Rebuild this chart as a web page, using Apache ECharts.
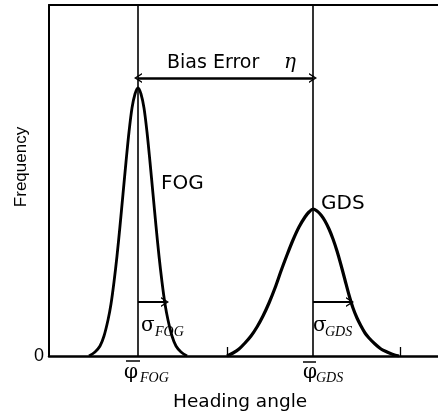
<!DOCTYPE html>
<html>
<head>
<meta charset="utf-8">
<script src="https://cdn.jsdelivr.net/npm/echarts@6/dist/echarts.min.js"></script>
<style>
html,body{margin:0;padding:0;background:#fff;}
#c{width:438px;height:415px;}
</style>
</head>
<body>
<div id="c"></div>
<script>
// Heading angle (x) and frequency (y), arbitrary units
var fogX = [40,46,51,55,59,62,65,68,71,74,77,80,83,86,89,92,95,98,101,104,107,110,113,116,119,123,127,132,138];
var fogY = [0,4,10,20,36,52,74,100,130,162,194,224,248,262,268,262,248,224,194,162,130,100,74,52,36,20,10,4,0];
var gdsX = [178,184,190,196,202,208,214,220,226,232,238,244,250,256,260,264,268,272,276,280,284,288,292,296,300,304,308,312,316,320,326,332,338,344,350];
var gdsY = [0,3,7,13,20,29,40,53,68,85,101,116,129,139,144,147,145,141,135,127,117,105,91,76,61,48,38,30,23,18,12,7,4,1.5,0];
var means = [89, 264];           // phi-bar FOG, phi-bar GDS
var sigmaEnds = [116, 301];      // sigma arrow tips
var sigmaLevel = [54];
var biasLevel = [278];
var footTicks = [178, 351];      // small marks on the baseline
var footTickHeight = [9];
var xRange = [0, 389];
var yRange = [0, 351];
var yTicks = [0];

function pairs(xs, ys){ return xs.map(function(x,i){ return [x, ys[i]]; }); }

var chev = 'path://M0,10L5,0L10,10L8.4,10L5,3.2L1.6,10Z';
var chart = echarts.init(document.getElementById('c'), null, {renderer:'canvas'});
var mlData = [
  {xAxis: means[0]},
  {xAxis: means[1]},
  [{coord: [means[0], biasLevel[0]], symbol: chev, symbolSize: [10, 8], lineStyle: {width: 2.6}},
   {coord: [means[1], biasLevel[0]], symbol: chev, symbolSize: [10, 8]}],
  [{coord: [means[0], sigmaLevel[0]], symbol: 'none', lineStyle: {width: 2}},
   {coord: [sigmaEnds[0], sigmaLevel[0]], symbol: chev, symbolSize: [10, 8]}],
  [{coord: [means[1], sigmaLevel[0]], symbol: 'none', lineStyle: {width: 2}},
   {coord: [sigmaEnds[1], sigmaLevel[0]], symbol: chev, symbolSize: [10, 8]}]
];
footTicks.forEach(function(t){
  mlData.push([{coord: [t, 0], lineStyle: {width: 1.3}}, {coord: [t, footTickHeight[0]]}]);
});
var option = {
  animation: false,
  backgroundColor: '#fff',
  grid: {left: 49, right: 0, top: 5, bottom: 59},
  xAxis: [{
    type: 'value', min: xRange[0], max: xRange[1],
    axisLine: {show: true, lineStyle: {color: '#000', width: 2.5}},
    axisTick: {show: false}, axisLabel: {show: false}, splitLine: {show: false}
  },{
    type: 'value', position: 'top', min: xRange[0], max: xRange[1],
    axisLine: {show: true, lineStyle: {color: '#000', width: 2}},
    axisTick: {show: false}, axisLabel: {show: false}, splitLine: {show: false}
  }],
  yAxis: {
    type: 'value', min: yRange[0], max: yRange[1], interval: yRange[1],
    axisLine: {show: true, onZero: false, lineStyle: {color: '#000', width: 2}},
    axisTick: {show: false}, splitLine: {show: false},
    axisLabel: {
      margin: 5, color: '#000', fontSize: 18, fontFamily: 'Liberation Sans',
      formatter: function(v){ return yTicks.indexOf(v) >= 0 ? String(v) : ''; }
    }
  },
  series: [{
    type: 'line', name: 'FOG', data: pairs(fogX, fogY), smooth: 0.3,
    symbol: 'none', lineStyle: {color: '#000', width: 2.8}, z: 3,
    markLine: {
      silent: true, animation: false, symbol: 'none', label: {show: false},
      lineStyle: {color: '#000', width: 1.6, type: 'solid'},
      data: mlData
    }
  },{
    type: 'line', name: 'GDS', data: pairs(gdsX, gdsY), smooth: 0.3,
    symbol: 'none', lineStyle: {color: '#000', width: 3.2}, z: 3
  }]
};
chart.setOption(option);

function px(x, y){ return chart.convertToPixel({xAxisIndex: 0, yAxisIndex: 0}, [x, y]); }
var pF = px(means[0], 0), pG = px(means[1], 0);
var pB = px(means[0], biasLevel[0]);
var pFogPeak = px(means[0], 268);
var pGdsPeak = px(means[1], 147);
var pS = px(means[0], sigmaLevel[0]);

var sans = 'DejaVu Sans';
function txt(x, y, s, size, family, extra){
  var st = {text: s, fill: '#000', fontSize: size, fontFamily: family, align: 'left', verticalAlign: 'middle'};
  if (extra) for (var k in extra) st[k] = extra[k];
  return {type: 'text', x: x, y: y, style: st, silent: true, z: 10};
}
var g = [
  txt(pB[0] + 29, pB[1] - 15, 'Bias Error', 19, sans),
  txt(pB[0] + 146, pB[1] - 15, 'η', 20, 'DejaVu Serif', {fontStyle: 'italic'}),
  txt(pFogPeak[0] + 23, pFogPeak[1] + 96, 'FOG', 20, sans),
  txt(pGdsPeak[0] + 8, pGdsPeak[1] - 5, 'GDS', 20, sans),
  // sigma labels
  txt(pS[0] + 3, pS[1] + 24, 'σ', 20, 'DejaVu Serif'),
  txt(pS[0] + 17, pS[1] + 30, 'FOG', 14, 'Liberation Serif', {fontStyle: 'italic'}),
  txt(pS[0] + 175, pS[1] + 24, 'σ', 20, 'DejaVu Serif'),
  txt(pS[0] + 187, pS[1] + 30, 'GDS', 14, 'Liberation Serif', {fontStyle: 'italic'}),
  // phi-bar labels
  txt(pF[0] - 14, pF[1] + 17, 'φ', 20, 'DejaVu Serif'),
  txt(pF[0] + 2, pF[1] + 22, 'FOG', 14, 'Liberation Serif', {fontStyle: 'italic'}),
  txt(pG[0] - 10, pG[1] + 17, 'φ', 20, 'DejaVu Serif'),
  txt(pG[0] + 3, pG[1] + 22, 'GDS', 14, 'Liberation Serif', {fontStyle: 'italic'}),
  {type: 'line', shape: {x1: pF[0] - 12, y1: pF[1] + 5, x2: pF[0] + 2, y2: pF[1] + 5}, style: {stroke: '#000', lineWidth: 1.5}, silent: true},
  {type: 'line', shape: {x1: pG[0] - 10, y1: pG[1] + 6, x2: pG[0] + 3, y2: pG[1] + 6}, style: {stroke: '#000', lineWidth: 1.5}, silent: true},
  // axis titles
  txt(173, 402, 'Heading angle', 18.5, sans),
  {type: 'text', x: 21, y: 167, rotation: Math.PI / 2,
   style: {text: 'Frequency', fill: '#000', fontSize: 17, fontFamily: 'Liberation Sans', align: 'center', verticalAlign: 'middle'}, silent: true}
];
chart.setOption({graphic: g});
</script>
</body>
</html>
